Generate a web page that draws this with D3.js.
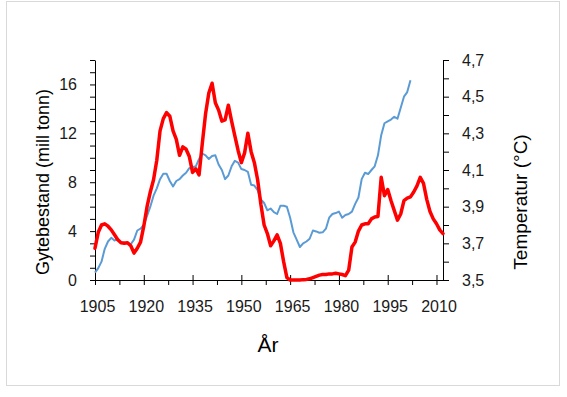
<!DOCTYPE html>
<html lang="no">
<head>
<meta charset="UTF-8">
<title>Gytebestand og temperatur</title>
<style>
  body { margin: 0; background: #fff; }
  svg { display: block; font-family: 'Liberation Sans', Arial, sans-serif; }
  .tick-label { font-size: 16px; fill: #1a1a1a; }
</style>
<script src="https://d3js.org/d3.v7.min.js"></script>
</head>
<body>
<div id="chart"></div>
<script>
// data, one value per year starting at firstYear
const firstYear = 1905;

const gytebestand = [
  2.6, 3.9, 4.5, 4.6, 4.4, 4.1, 3.7, 3.3, 3.05, 3.0,          // 1905-1914
  3.05, 2.8, 2.2, 2.6, 3.1, 4.4, 6.0, 7.2, 8.2, 9.8,          // 1915-1924
  12.2, 13.2, 13.7, 13.4, 12.2, 11.5, 10.2, 10.9, 10.7, 10.1, // 1925-1934
  8.8, 9.1, 8.6, 11.2, 13.6, 15.3, 16.1, 14.5, 13.9, 13.0,    // 1935-1944
  13.1, 14.3, 13.0, 11.8, 10.6, 9.6, 10.4, 12.0, 10.5, 9.6,   // 1945-1954
  8.2, 6.2, 4.5, 3.8, 2.8, 3.2, 3.7, 3.0, 1.5, 0.2,           // 1955-1964
  0, 0, 0, 0, 0.03, 0.05, 0.1, 0.2, 0.3, 0.4,                 // 1965-1974
  0.45, 0.45, 0.5, 0.5, 0.55, 0.5, 0.45, 0.35, 0.8, 2.7,      // 1975-1984
  3.1, 4.0, 4.5, 4.6, 4.6, 5.0, 5.15, 5.2, 8.4, 6.9,          // 1985-1994
  7.4, 6.5, 5.7, 4.9, 5.4, 6.5, 6.7, 6.8, 7.2, 7.7,           // 1995-2004
  8.4, 7.9, 6.6, 5.6, 5.0, 4.6, 4.1, 3.8                      // 2005-2012
];

const temperatur = [
  3.54, 3.565, 3.60, 3.67, 3.71, 3.73, 3.715, 3.725, 3.705, 3.705, // 1905-1914
  3.70, 3.695, 3.72, 3.77, 3.78, 3.80, 3.85, 3.90, 3.96, 4.00,     // 1915-1924
  4.05, 4.08, 4.08, 4.04, 4.01, 4.04, 4.05, 4.07, 4.085, 4.11,     // 1925-1934
  4.115, 4.12, 4.16, 4.19, 4.18, 4.16, 4.176, 4.18, 4.13, 4.10,    // 1935-1944
  4.05, 4.07, 4.12, 4.15, 4.14, 4.105, 4.10, 4.09, 4.02, 4.015,    // 1945-1954
  3.99, 3.94, 3.92, 3.88, 3.89, 3.87, 3.86, 3.905, 3.905, 3.90,    // 1955-1964
  3.84, 3.76, 3.72, 3.68, 3.70, 3.71, 3.725, 3.77, 3.765, 3.758,   // 1965-1974
  3.76, 3.78, 3.84, 3.86, 3.865, 3.873, 3.84, 3.855, 3.86, 3.873,  // 1975-1984
  3.915, 3.95, 4.05, 4.085, 4.078, 4.10, 4.12, 4.18, 4.29, 4.355,  // 1985-1994
  4.365, 4.375, 4.39, 4.38, 4.44, 4.50, 4.525, 4.59                // 1995-2002
];

const xTickLabels = [1905, 1920, 1935, 1950, 1965, 1980, 1995, 2010];
const leftTickLabels = [0, 4, 8, 12, 16];
const rightTickLabels = [3.5, 3.7, 3.9, 4.1, 4.3, 4.5, 4.7];

const W = 567, H = 397;
const mLeft = 95, mRight = 443, mTop = 60, mBottom = 280;

const svg = d3.select("#chart").append("svg")
  .attr("width", W)
  .attr("height", H);

// outer frame
svg.append("rect")
  .attr("x", 6.5).attr("y", 1.5)
  .attr("width", 553).attr("height", 384)
  .attr("fill", "#fff")
  .attr("stroke", "#d9d9d9");

const x = d3.scaleLinear().domain([1905, 2012]).range([mLeft, mRight]);
const yL = d3.scaleLinear().domain([0, 18]).range([mBottom, mTop]);
const yR = d3.scaleLinear().domain([3.5, 4.7]).range([mBottom, mTop]);

// x axis: major ticks crossing the line, minor ticks below
const xMinor = d3.range(1912.5, 2012, 15);
svg.append("g")
  .attr("transform", `translate(0,${mBottom})`)
  .call(d3.axisBottom(x).tickValues(xMinor).tickSize(5).tickFormat(""))
  .call(g => g.select(".domain").remove());

const xAxis = svg.append("g")
  .attr("transform", `translate(0,${mBottom})`)
  .call(d3.axisBottom(x).tickValues(xTickLabels).tickSize(5).tickSizeOuter(0).tickFormat(d3.format("d")));
xAxis.selectAll(".tick line").attr("y1", -5);
xAxis.selectAll(".tick text").attr("class", "tick-label").attr("y", 32).attr("dy", null).attr("dx", 2);

// left axis: a tick per unit, labels every 4
const leftAxis = svg.append("g")
  .attr("transform", `translate(${mLeft},0)`)
  .call(d3.axisLeft(yL).tickValues(d3.range(0, 19, 1)).tickSize(5).tickSizeOuter(0)
    .tickFormat(d => leftTickLabels.includes(d) ? d : ""));
leftAxis.selectAll(".tick text").attr("class", "tick-label").attr("x", -18);

// right axis: a tick per 0.1, labels every 0.2
const fmt = d => d3.format(".1f")(d).replace(".", ",");
const rightAxis = svg.append("g")
  .attr("transform", `translate(${mRight},0)`)
  .call(d3.axisRight(yR).tickValues(d3.range(0, 13).map(i => 3.5 + i * 0.1)).tickSize(6).tickSizeOuter(0)
    .tickFormat(d => rightTickLabels.some(v => Math.abs(v - d) < 1e-6) ? fmt(d) : ""));
rightAxis.selectAll(".tick text").attr("class", "tick-label").attr("x", 19);

svg.selectAll("g").attr("font-size", null).attr("font-family", null);
svg.selectAll(".domain, .tick line").attr("stroke", "#000");

// lines
const redLine = d3.line()
  .x((d, i) => x(firstYear + i))
  .y(d => yL(d));
const blueLine = d3.line()
  .x((d, i) => x(firstYear + i))
  .y(d => yR(d));

svg.append("path")
  .datum(temperatur)
  .attr("d", blueLine)
  .attr("fill", "none")
  .attr("stroke", "#5b9bd5")
  .attr("stroke-width", 2)
  .attr("stroke-linejoin", "round");

svg.append("path")
  .datum(gytebestand)
  .attr("d", redLine)
  .attr("fill", "none")
  .attr("stroke", "#ff0000")
  .attr("stroke-width", 3.5)
  .attr("stroke-linejoin", "round")
  .attr("stroke-linecap", "round");

// titles
svg.append("text")
  .attr("transform", "translate(49,182) rotate(-90)")
  .attr("text-anchor", "middle")
  .style("font-size", "18px")
  .style("fill", "#000")
  .text("Gytebestand (mill tonn)");

svg.append("text")
  .attr("transform", "translate(527,202) rotate(-90)")
  .attr("text-anchor", "middle")
  .style("font-size", "19px")
  .style("fill", "#000")
  .text("Temperatur (°C)");

svg.append("text")
  .attr("x", 268)
  .attr("y", 352)
  .attr("text-anchor", "middle")
  .style("font-size", "21px")
  .style("fill", "#000")
  .text("År");
</script>
</body>
</html>
